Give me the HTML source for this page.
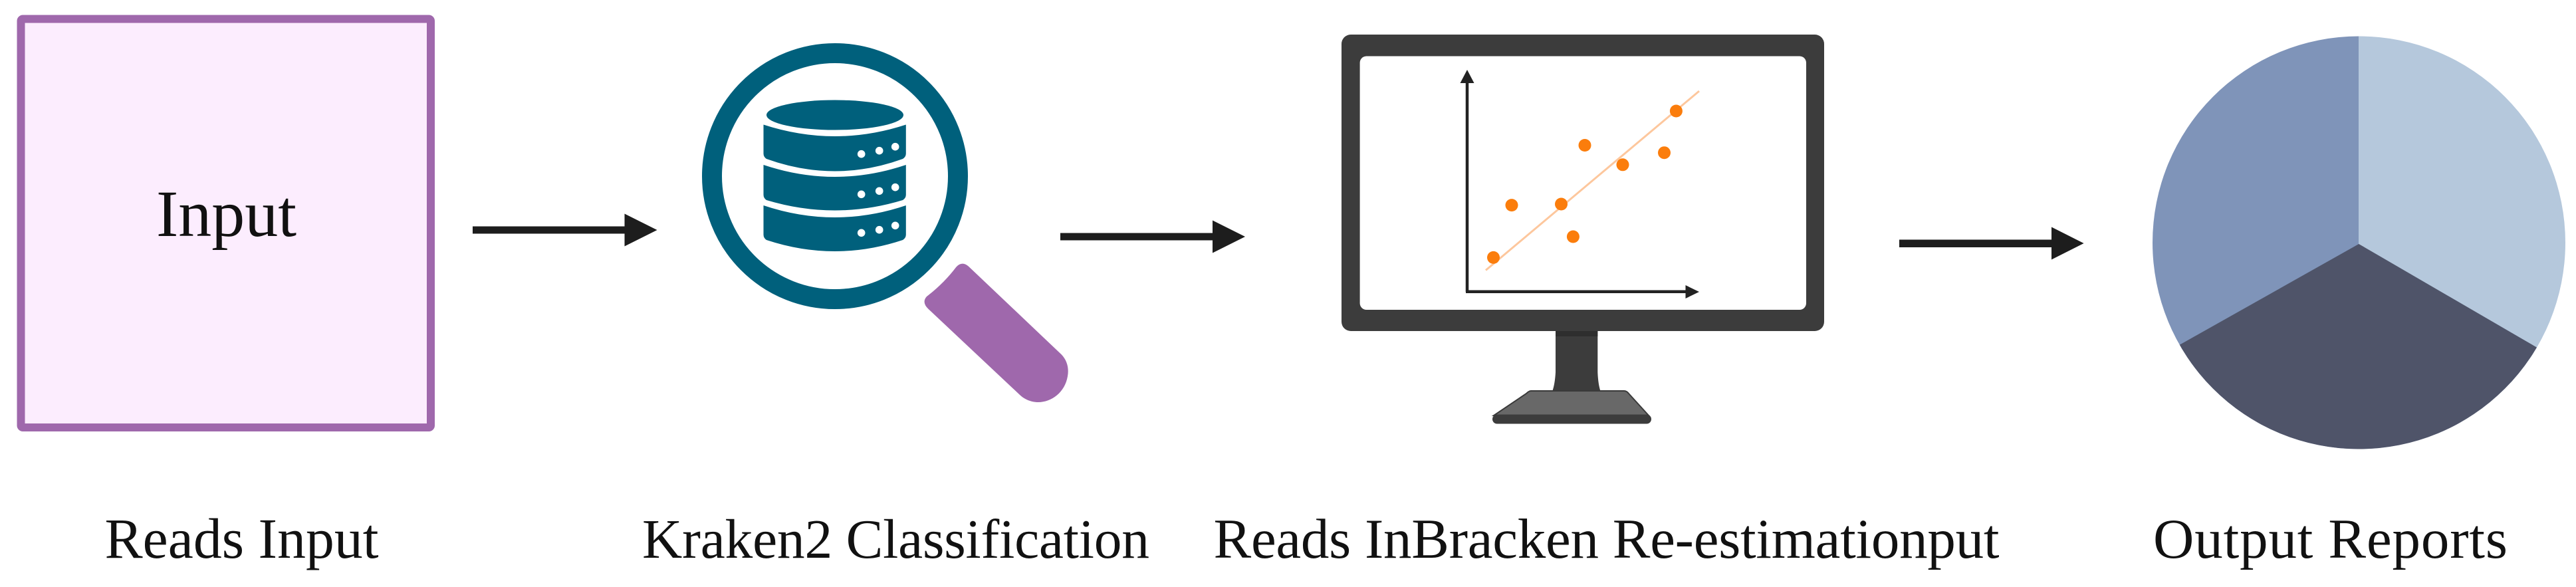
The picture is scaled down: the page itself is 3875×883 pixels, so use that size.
<!DOCTYPE html>
<html lang="en">
<head>
<meta charset="utf-8">
<title>Pipeline diagram</title>
<style>
html,body{margin:0;padding:0;background:#fff;width:3875px;height:883px;overflow:hidden}
svg{display:block}
text{font-family:"Liberation Serif","Times New Roman",serif;fill:#111}
</style>
</head>
<body>
<svg xmlns="http://www.w3.org/2000/svg" width="3875" height="883" viewBox="0 0 3875 883">
  <defs>
    <clipPath id="pieClip"><circle cx="3548.5" cy="365" r="310.5"/></clipPath>
  </defs>
  <rect width="3875" height="883" fill="#fff"/>

  <!-- Input box -->
  <rect x="31.5" y="28.5" width="616.5" height="614.5" rx="3" fill="#fcedfe" stroke="#9f68ac" stroke-width="12"/>
  <text x="235" y="355" font-size="100" textLength="211" lengthAdjust="spacing">Input</text>

  <!-- Arrow 1 -->
  <rect x="711" y="340.5" width="232" height="11" fill="#1d1d1d"/>
  <polygon points="939.5,321.5 988.5,346 939.5,370.5" fill="#1d1d1d"/>

  <!-- Magnifier -->
  <circle cx="1256" cy="265" r="185" fill="#fff" stroke="#00607c" stroke-width="30"/>
  <ellipse cx="1256" cy="173" rx="103" ry="22.5" fill="#00607c"/>
  <path d="M1148.5,187.5 Q1256,222.5 1362.8,187.5 L1362.8,231 Q1362.8,236 1358,239 Q1256,276 1153,239 Q1148.5,236 1148.5,231 Z" fill="#00607c"/>
  <path d="M1148.5,248 Q1256,284 1362.8,248 L1362.8,293 Q1362.8,298 1358,301 Q1256,332 1153,301 Q1148.5,298 1148.5,293 Z" fill="#00607c"/>
  <path d="M1148.5,309 Q1256,345 1362.8,309 L1362.8,353 Q1362.8,358 1358,361 Q1256,395 1153,361 Q1148.5,358 1148.5,353 Z" fill="#00607c"/>
  <g fill="#fff">
    <circle cx="1295.7" cy="231.7" r="5.8"/><circle cx="1322.7" cy="226.7" r="5.8"/><circle cx="1346.7" cy="220.7" r="5.8"/>
    <circle cx="1295.7" cy="292.3" r="5.8"/><circle cx="1322.7" cy="287.3" r="5.8"/><circle cx="1346.7" cy="281.7" r="5.8"/>
    <circle cx="1295.7" cy="350.3" r="5.8"/><circle cx="1322.7" cy="345.7" r="5.8"/><circle cx="1346.7" cy="339.3" r="5.8"/>
  </g>
  <path d="M1438.3,401.7 Q1447,392 1457,400.7 L1596.7,533.3 C1606,543 1608,555 1606,566 C1602,590 1582,605 1561.7,605 C1550,605 1540,600 1533,593 L1396.7,465 Q1386,455 1394,446 Q1420,426 1438.3,401.7 Z" fill="#9f68ac"/>

  <!-- Arrow 2 -->
  <rect x="1595" y="350.5" width="232" height="11" fill="#1d1d1d"/>
  <polygon points="1824,331.5 1873,356 1824,380.5" fill="#1d1d1d"/>

  <!-- Monitor -->
  <path d="M2340,495 L2403.3,495 L2403.3,560 Q2404,578 2407.7,589 L2335,589 Q2339,578 2340,560 Z" fill="#3c3c3c"/>
  <rect x="2340" y="497" width="63.3" height="9" fill="#2e2e2e"/>
  <path d="M2303,588 L2443,588 Q2447,588 2450,592 L2480,625 L2247,625 L2296,592 Q2300,588 2303,588 Z" fill="#686868" stroke="#3a3a3a" stroke-width="2"/>
  <rect x="2245" y="623.5" width="239" height="14" rx="7" fill="#3c3c3c"/>
  <rect x="2018" y="52" width="726" height="446" rx="14" fill="#3c3c3c"/>
  <rect x="2045.6" y="84.5" width="671.4" height="381.5" rx="10" fill="#fff"/>

  <!-- Chart -->
  <line x1="2235" y1="406.5" x2="2556" y2="137" stroke="#fdc79d" stroke-width="3"/>
  <path d="M2207,122 L2207,439" stroke="#222" stroke-width="4.5" fill="none"/>
  <polygon points="2207,105 2217.5,125 2196.5,125" fill="#222"/>
  <path d="M2205,438.8 L2538,438.8" stroke="#222" stroke-width="4.5" fill="none"/>
  <polygon points="2556,439 2535.5,429 2535.5,449" fill="#222"/>
  <g fill="#fb7d0c">
    <circle cx="2246.5" cy="387.4" r="9.5"/>
    <circle cx="2274" cy="308.6" r="9.5"/>
    <circle cx="2348.5" cy="307" r="9.5"/>
    <circle cx="2366.4" cy="356" r="9.5"/>
    <circle cx="2384" cy="218.5" r="9.5"/>
    <circle cx="2441" cy="247.8" r="9.5"/>
    <circle cx="2503.5" cy="229.7" r="9.5"/>
    <circle cx="2521.4" cy="167" r="9.5"/>
  </g>

  <!-- Arrow 3 -->
  <rect x="2857" y="360.5" width="233" height="11.5" fill="#1d1d1d"/>
  <polygon points="3086,341.5 3134.6,366 3086,390.5" fill="#1d1d1d"/>

  <!-- Pie -->
  <g clip-path="url(#pieClip)">
    <rect x="3230" y="45" width="318.5" height="640" fill="#7f94b9"/>
    <rect x="3548" y="45" width="320" height="640" fill="#b5c8dc"/>
    <polygon points="3548.3,367 3830,530.7 3830,690 3230,690 3230,546 3280,518" fill="#4f5469"/>
  </g>

  <!-- Labels -->
  <text x="157.5" y="839" font-size="85.7" textLength="412" lengthAdjust="spacing">Reads Input</text>
  <text x="966" y="839" font-size="83.5" textLength="763" lengthAdjust="spacing">Kraken2 Classification</text>
  <text x="1825.5" y="839" font-size="85" textLength="1182" lengthAdjust="spacing">Reads InBracken Re-estimationput</text>
  <text x="3239" y="839" font-size="85" textLength="533" lengthAdjust="spacing">Output Reports</text>
</svg>
</body>
</html>
